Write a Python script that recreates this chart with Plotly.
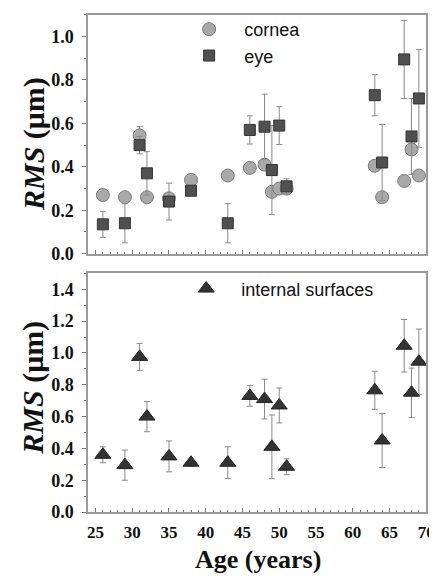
import plotly.graph_objects as go

# ---------------- data ----------------
cornea_age = [26, 29, 31, 32, 35, 38, 43, 46, 48, 49, 50, 51, 63, 64, 67, 68, 69]
cornea_rms = [0.27, 0.26, 0.545, 0.26, 0.255, 0.34, 0.36, 0.395, 0.41, 0.285, 0.30, 0.30, 0.405, 0.26, 0.335, 0.48, 0.36]
cornea_err = [0.02, 0.02, 0.04, 0.02, 0.02, 0.02, 0.02, 0.02, 0.02, 0.02, 0.02, 0.02, 0.02, 0.02, 0.02, 0.02, 0.02]

eye_age = [26, 29, 31, 32, 35, 38, 43, 46, 48, 49, 50, 51, 63, 64, 67, 68, 69]
eye_rms = [0.135, 0.14, 0.50, 0.37, 0.24, 0.29, 0.14, 0.57, 0.585, 0.385, 0.59, 0.31, 0.73, 0.42, 0.895, 0.54, 0.715]
eye_err = [0.06, 0.09, 0.04, 0.10, 0.085, 0.02, 0.09, 0.065, 0.15, 0.205, 0.087, 0.035, 0.095, 0.175, 0.18, 0.175, 0.225]

int_age = [26, 29, 31, 32, 35, 38, 43, 46, 48, 49, 50, 51, 63, 64, 67, 68, 69]
int_rms = [0.36, 0.295, 0.975, 0.60, 0.35, 0.31, 0.31, 0.73, 0.71, 0.41, 0.67, 0.285, 0.765, 0.45, 1.045, 0.75, 0.945]
int_err = [0.05, 0.095, 0.085, 0.095, 0.097, 0.02, 0.10, 0.065, 0.125, 0.20, 0.11, 0.05, 0.12, 0.17, 0.165, 0.155, 0.205]

x_ticks = [25, 30, 35, 40, 45, 50, 55, 60, 65, 70]
y_title = "<b><i>RMS</i> (μm)</b>"
x_title = "<b>Age (years)</b>"

# ---------------- figure ----------------
W, H = 437, 577
err_style = dict(type="data", color="#8a8a8a", thickness=1, width=3)

fig = go.Figure()
fig.add_trace(go.Scatter(
    x=cornea_age, y=cornea_rms, mode="markers", name="cornea",
    error_y=dict(array=cornea_err, **err_style),
    marker=dict(symbol="circle", size=13, color="#a9a9a9", line=dict(color="#7a7a7a", width=1)),
    xaxis="x", yaxis="y", legend="legend"))
fig.add_trace(go.Scatter(
    x=eye_age, y=eye_rms, mode="markers", name="eye",
    error_y=dict(array=eye_err, **err_style),
    marker=dict(symbol="square", size=11, color="#505050", line=dict(color="#333333", width=1)),
    xaxis="x", yaxis="y", legend="legend"))
fig.add_trace(go.Scatter(
    x=int_age, y=int_rms, mode="markers", name="internal surfaces",
    error_y=dict(array=int_err, **err_style),
    marker=dict(symbol="triangle-up", size=14, color="#333333", line=dict(color="#222222", width=1)),
    xaxis="x2", yaxis="y2", legend="legend2"))

def px_x(p):
    return p / W

def px_y(p):
    return 1 - p / H

tick_font = dict(family="Liberation Serif", size=18, color="#111111", weight="bold")
line_col = "#9a9a9a"

xcommon = dict(range=[24, 70], showline=True, linecolor=line_col, linewidth=1.5, mirror=True,
               ticks="inside", ticklen=4, tickcolor="#777777", tickvals=x_ticks,
               minor=dict(dtick=1, ticks="inside", ticklen=2, tickcolor="#777777"),
               showgrid=False, zeroline=False, domain=[px_x(81), px_x(427)])
ycommon = dict(showline=True, linecolor=line_col, linewidth=1.5, mirror=True,
               ticks="outside", ticklen=4, tickcolor="#777777", dtick=0.2, tickformat=".1f",
               minor=dict(dtick=0.1, ticks="outside", ticklen=2, tickcolor="#777777"),
               showgrid=False, zeroline=False, tickfont=tick_font, ticklabelstandoff=5)

legend_font = dict(family="Liberation Sans", size=18, color="#111111")

fig.update_layout(
    width=W, height=H, margin=dict(l=0, r=0, t=0, b=0),
    paper_bgcolor="white", plot_bgcolor="white",
    xaxis=dict(anchor="y", showticklabels=False, **xcommon),
    yaxis=dict(anchor="x", range=[0, 1.1], domain=[px_y(250), px_y(7)], **ycommon),
    xaxis2=dict(anchor="y2", showticklabels=True, ticklabelstandoff=4,
                tickfont=dict(family="Liberation Serif", size=17, color="#111111", weight="bold"),
                **xcommon),
    yaxis2=dict(anchor="x2", range=[0, 1.5], domain=[px_y(513), px_y(270)], **ycommon),
    legend=dict(x=px_x(169), y=px_y(3), xanchor="left", yanchor="top", itemwidth=60,
                bgcolor="rgba(0,0,0,0)", font=legend_font, tracegroupgap=0, itemsizing="trace"),
    legend2=dict(x=px_x(166), y=px_y(267), xanchor="left", yanchor="top", itemwidth=60,
                 bgcolor="rgba(0,0,0,0)", font=legend_font),
    annotations=[
        dict(text=y_title, x=px_x(25), y=px_y(138), xref="paper", yref="paper",
             xanchor="center", yanchor="middle",
             showarrow=False, textangle=-90, font=dict(family="Liberation Serif", size=30, color="#111111")),
        dict(text=y_title, x=px_x(25), y=px_y(386), xref="paper", yref="paper",
             xanchor="center", yanchor="middle",
             showarrow=False, textangle=-90, font=dict(family="Liberation Serif", size=30, color="#111111")),
        dict(text=x_title, x=px_x(255), y=px_y(561), xref="paper", yref="paper",
             xanchor="center", yanchor="middle",
             showarrow=False, font=dict(family="Liberation Serif", size=26, color="#111111")),
    ],
)

fig.write_html("out.html")
